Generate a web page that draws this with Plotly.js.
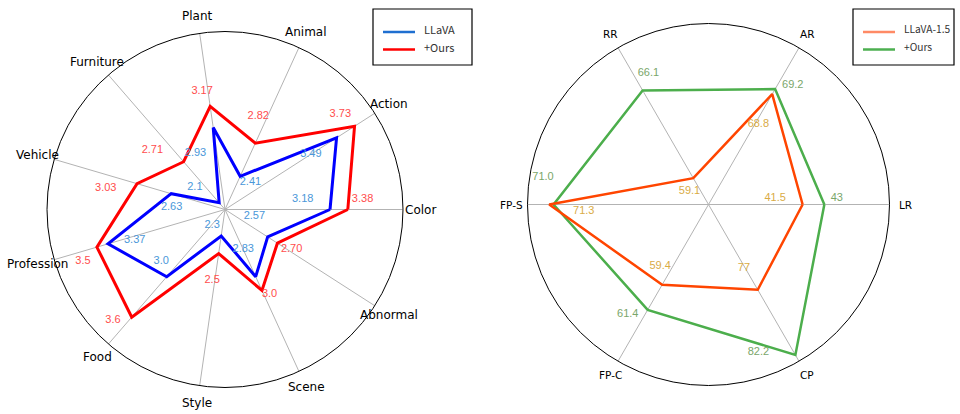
<!DOCTYPE html>
<html><head><meta charset="utf-8">
<script src="https://cdn.plot.ly/plotly-3.0.1.min.js"></script>
<style>html,body{margin:0;padding:0;background:#fff}#chart{width:960px;height:414px}</style>
</head><body><div id="chart"></div>
<script>
// ---------- Left chart data ----------
const leftCategories = ['Color','Action','Animal','Plant','Furniture','Vehicle','Profession','Food','Style','Scene','Abnormal'];
const llavaScores = [3.18, 3.49, 2.41, 2.93, 2.1, 2.63, 3.37, 3.0, 2.3, 2.83, 2.57];
const llavaLabels = ['3.18','3.49','2.41','2.93','2.1','2.63','3.37','3.0','2.3','2.83','2.57'];
const oursScores = [3.38, 3.73, 2.82, 3.17, 2.71, 3.03, 3.5, 3.6, 2.5, 3.0, 2.70];
const oursLabels = ['3.38','3.73','2.82','3.17','2.71','3.03','3.5','3.6','2.5','3.0','2.70'];
const leftRange = [2, 4];
const leftSeriesNames = ['LLaVA', '+Ours'];

// ---------- Right chart data ----------
const rightCategories = ['LR','AR','RR','FP-S','FP-C','CP'];
const llava15Scores = [41.5, 68.8, 59.1, 71.3, 59.4, 77];
const llava15Labels = ['41.5','68.8','59.1','71.3','59.4','77'];
const ours15Scores = [43, 69.2, 66.1, 71.0, 61.4, 82.2];
const ours15Labels = ['43','69.2','66.1','71.0','61.4','82.2'];
const rightAxisMin = [35, 60, 57, 60.3, 53, 70.2];   // per-axis scale start
const rightAxisSpan = 12.5;                          // per-axis scale length
const rightSeriesNames = ['LLaVA-1.5', '+Ours'];

// ---------- label placement offsets (style) ----------
const llavaLabelDT = [7.4, 0.2, -18.3, 19.6, 12.8, 14.4, 2.2, -10.2, -30.8, 0.25, 19.1];
const llavaLabelDR = [-0.30, -0.34, 0.01, -0.22, 0.32, -0.03, -0.30, -0.08, -0.07, -0.34, -0.23];
const oursLabelDT = [4.2, 6.8, 4.85, 2.8, 10.1, 6.4, 3.8, -4.4, -2.1, 3.05, 2.1];
const oursLabelDR = [0.17, -0.05, 0.29, 0.18, 0.34, 0.33, 0.20, 0.17, 0.31, 0.08, 0.17];
const ours15LabelDT = [2.7, -5.3, -5.4, -9.2, -6.4, -11.3];
const ours15LabelDR = [0.07, 0.07, 0.07, 0.07, 0.08, -0.10];
const llava15LabelDT = [5, -1.7, 25, 3.2, -8.2, -1];
const llava15LabelDR = [-0.15, -0.18, -0.04, -0.19, -0.08, -0.14];

const W = 960, H = 414;
const leftGeom = {cx: 225, cy: 209.5, R: 178};
const rightGeom = {cx: 708.5, cy: 204.5, R: 181};
function domainOf(g) {
  return {x: [(g.cx - g.R) / W, (g.cx + g.R) / W], y: [1 - (g.cy + g.R) / H, 1 - (g.cy - g.R) / H]};
}

const leftAngles = leftCategories.map((_, i) => i * 360 / leftCategories.length);
const rightAngles = rightCategories.map((_, i) => i * 360 / rightCategories.length);
const close = a => a.concat([a[0]]);

const rightNorm = vals => vals.map((v, i) => (v - rightAxisMin[i]) / rightAxisSpan);
const llava15R = rightNorm(llava15Scores);
const ours15R = rightNorm(ours15Scores);

const labelFont = c => ({family: 'Liberation Sans, Arial, sans-serif', size: 11, color: c});

const traces = [
  {type: 'scatterpolar', subplot: 'polar', name: leftSeriesNames[0], showlegend: false,
   r: close(llavaScores), theta: close(leftAngles), mode: 'lines',
   line: {color: '#0000ff', width: 3}, hoverinfo: 'skip'},
  {type: 'scatterpolar', subplot: 'polar', name: leftSeriesNames[1], showlegend: false,
   r: close(oursScores), theta: close(leftAngles), mode: 'lines',
   line: {color: '#ff0000', width: 3}, hoverinfo: 'skip'},
  {type: 'scatterpolar', subplot: 'polar', showlegend: false, mode: 'text', cliponaxis: false,
   r: llavaScores.map((v, i) => v + llavaLabelDR[i]), theta: leftAngles.map((a, i) => a + llavaLabelDT[i]),
   text: llavaLabels, textposition: 'middle center', textfont: labelFont('#4a97d9'), hoverinfo: 'skip'},
  {type: 'scatterpolar', subplot: 'polar', showlegend: false, mode: 'text', cliponaxis: false,
   r: oursScores.map((v, i) => v + oursLabelDR[i]), theta: leftAngles.map((a, i) => a + oursLabelDT[i]),
   text: oursLabels, textposition: 'middle center', textfont: labelFont('#ff4d4d'), hoverinfo: 'skip'},

  {type: 'scatterpolar', subplot: 'polar2', name: rightSeriesNames[1], showlegend: false,
   r: close(ours15R), theta: close(rightAngles), mode: 'lines',
   line: {color: '#4cae4c', width: 2.5}, hoverinfo: 'skip'},
  {type: 'scatterpolar', subplot: 'polar2', name: rightSeriesNames[0], showlegend: false,
   r: close(llava15R), theta: close(rightAngles), mode: 'lines',
   line: {color: '#ff4500', width: 2.5}, hoverinfo: 'skip'},
  {type: 'scatterpolar', subplot: 'polar2', showlegend: false, mode: 'text', cliponaxis: false,
   r: ours15R.map((v, i) => v + ours15LabelDR[i]), theta: rightAngles.map((a, i) => a + ours15LabelDT[i]),
   text: ours15Labels, textposition: 'middle center', textfont: labelFont('#7aa66a'), hoverinfo: 'skip'},
  {type: 'scatterpolar', subplot: 'polar2', showlegend: false, mode: 'text', cliponaxis: false,
   r: llava15R.map((v, i) => v + llava15LabelDR[i]), theta: rightAngles.map((a, i) => a + llava15LabelDT[i]),
   text: llava15Labels, textposition: 'middle center', textfont: labelFont('#d9ab45'), hoverinfo: 'skip'}
];

function polarLayout(g, angles, range) {
  return {
    domain: domainOf(g), bgcolor: 'rgba(0,0,0,0)',
    angularaxis: {type: 'linear', thetaunit: 'degrees', rotation: 0, direction: 'counterclockwise',
      tickmode: 'array', tickvals: angles, showticklabels: false, ticks: '',
      showgrid: true, gridcolor: '#b3b3b3', gridwidth: 1,
      showline: true, linecolor: '#000000', linewidth: 1, layer: 'below traces'},
    radialaxis: {range: range, showgrid: false, showline: false, showticklabels: false, ticks: '', layer: 'below traces'}
  };
}

function catAnnotations(g, cats, angles, factor, size) {
  return cats.map((c, i) => {
    const a = angles[i] * Math.PI / 180;
    const px = g.cx + factor * g.R * Math.cos(a);
    const py = g.cy - factor * g.R * Math.sin(a);
    return {text: c, xref: 'paper', yref: 'paper', x: px / W, y: 1 - py / H,
      xanchor: 'center', yanchor: 'middle', showarrow: false,
      font: {family: 'DejaVu Sans, sans-serif', size: size, color: '#000'}};
  });
}

// ---------- hand-built legend boxes (paper coordinates in px) ----------
function legendBox(box, names, colors, fontSize) {
  const shapes = [{type: 'rect', xref: 'paper', yref: 'paper',
    x0: box.x0 / W, x1: box.x1 / W, y0: 1 - box.y1 / H, y1: 1 - box.y0 / H,
    line: {color: '#000', width: 1.2}, fillcolor: '#ffffff', layer: 'above'}];
  const anns = [];
  names.forEach((n, i) => {
    const ly = box.y0 + 23 + i * 17.5;
    shapes.push({type: 'line', xref: 'paper', yref: 'paper',
      x0: (box.x0 + 10) / W, x1: (box.x0 + 42) / W, y0: 1 - ly / H, y1: 1 - ly / H,
      line: {color: colors[i], width: 2.5}, layer: 'above'});
    anns.push({text: n, xref: 'paper', yref: 'paper', x: (box.x0 + 49) / W, y: 1 - (ly - 3) / H,
      xanchor: 'left', yanchor: 'middle', showarrow: false,
      font: {family: 'Noto Sans CJK SC, sans-serif', size: fontSize, color: '#333333'}});
  });
  return {shapes, anns};
}
const leftLegend = legendBox({x0: 373, y0: 9, x1: 472, y1: 65}, leftSeriesNames, ['#1f6fd0', '#ff0000'], 11);
const rightLegend = legendBox({x0: 853, y0: 9, x1: 954, y1: 65}, rightSeriesNames, ['#ff8a65', '#4caf50'], 10.2);

const layout = {
  width: W, height: H, margin: {l: 0, r: 0, t: 0, b: 0},
  paper_bgcolor: '#ffffff', plot_bgcolor: '#ffffff', showlegend: false,
  polar: polarLayout(leftGeom, leftAngles, leftRange),
  polar2: polarLayout(rightGeom, rightAngles, [0, 1]),
  shapes: leftLegend.shapes.concat(rightLegend.shapes),
  annotations: catAnnotations(leftGeom, leftCategories, leftAngles, 1.096, 12)
    .concat(catAnnotations(rightGeom, rightCategories, rightAngles, 1.088, 10.5))
    .concat(leftLegend.anns).concat(rightLegend.anns)
};

Plotly.newPlot('chart', traces, layout, {displayModeBar: false, staticPlot: true});
</script>
</body></html>
